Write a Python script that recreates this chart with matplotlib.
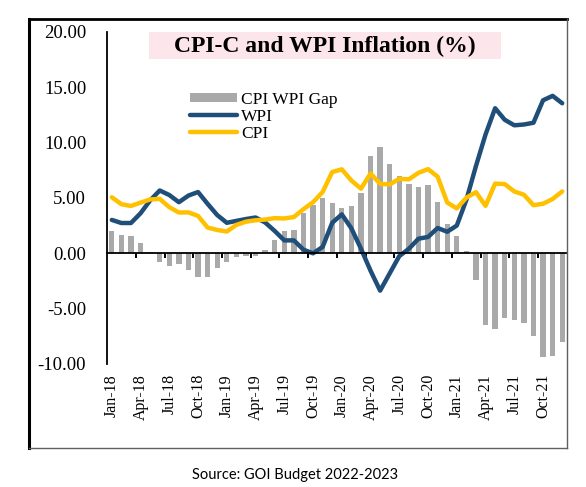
import matplotlib
matplotlib.use("Agg")
import matplotlib.pyplot as plt
from matplotlib.lines import Line2D
from matplotlib.patches import Rectangle

plt.rcParams["font.family"] = ["Liberation Serif", "DejaVu Serif"]

# monthly data, Jan-18 .. Dec-21
months = [f"{m}-{y}" for y in ("18", "19", "20", "21")
          for m in ("Jan", "Feb", "Mar", "Apr", "May", "Jun",
                    "Jul", "Aug", "Sep", "Oct", "Nov", "Dec")]

cpi = [5.07, 4.44, 4.28, 4.58, 4.87, 4.92, 4.17, 3.69, 3.70, 3.38, 2.33, 2.11,
       1.97, 2.57, 2.86, 2.99, 3.05, 3.18, 3.15, 3.28, 3.99, 4.62, 5.54, 7.35,
       7.59, 6.58, 5.84, 7.22, 6.27, 6.23, 6.73, 6.69, 7.27, 7.61, 6.93, 4.59,
       4.06, 5.03, 5.52, 4.29, 6.30, 6.26, 5.59, 5.30, 4.35, 4.48, 4.91, 5.59]

wpi = [3.02, 2.74, 2.74, 3.62, 4.78, 5.68, 5.27, 4.62, 5.22, 5.54, 4.47, 3.46,
       2.76, 2.93, 3.10, 3.24, 2.79, 2.02, 1.17, 1.17, 0.33, 0.00, 0.58, 2.76,
       3.52, 2.26, 0.42, -1.57, -3.37, -1.81, -0.25, 0.41, 1.32, 1.48, 2.29, 1.95,
       2.51, 4.83, 7.89, 10.74, 13.11, 12.07, 11.57, 11.64, 11.80, 13.83, 14.23, 13.56]

gap = [2.05, 1.70, 1.54, 0.96, 0.09, -0.76, -1.10, -0.93, -1.52, -2.16, -2.14, -1.35,
       -0.79, -0.36, -0.24, -0.25, 0.26, 1.16, 1.98, 2.11, 3.66, 4.40, 4.96, 4.59,
       4.07, 4.32, 5.42, 8.79, 9.64, 8.04, 6.98, 6.28, 5.95, 6.13, 4.64, 2.64,
       1.55, 0.20, -2.37, -6.45, -6.81, -5.81, -5.98, -6.34, -7.45, -9.35, -9.32, -7.97]

y_ticks = [-10, -5, 0, 5, 10, 15, 20]

W, H = 586, 487
fig = plt.figure(figsize=(W / 100, H / 100), dpi=100)


def fx(px):
    return px / W


def fy(py):
    return 1 - py / H


ax = fig.add_axes([fx(107), fy(364), fx(567) - fx(107), fy(32) - fy(364)])
x = list(range(len(months)))

bars = ax.bar(x, gap, width=0.55, color="#a9a9a9", zorder=2, label="CPI WPI Gap")
wpi_line, = ax.plot(x, wpi, color="#1f4e79", lw=3.2, solid_capstyle="round",
                    solid_joinstyle="round", zorder=3, label="WPI")
cpi_line, = ax.plot(x, cpi, color="#ffc000", lw=3.2, solid_capstyle="round",
                    solid_joinstyle="round", zorder=4, label="CPI")

ax.set_xlim(-0.5, len(months) - 0.5)
ax.set_ylim(-10, 20)

for side in ("top", "right"):
    ax.spines[side].set_visible(False)
ax.spines["left"].set_linewidth(1.3)
ax.spines["bottom"].set_position(("data", 0))
ax.spines["bottom"].set_linewidth(1.3)
ax.spines["bottom"].set_zorder(5)

# tick marks on the zero line between quarters
ax.set_xticks([i + 0.5 for i in range(2, len(months) - 1, 3)])
ax.set_xticklabels([])
ax.tick_params(axis="x", direction="out", length=3.5, width=1.4)

ax.set_yticks(y_ticks)
ax.set_yticklabels([f"{v:.2f}" for v in y_ticks], fontsize=13.5)
ax.tick_params(axis="y", length=0, pad=15)

for i in range(0, len(months), 3):
    ax.text(i, -0.03, months[i], transform=ax.get_xaxis_transform(),
            rotation=90, ha="center", va="top", fontsize=11.5)

# title box
fig.add_artist(Rectangle((fx(149), fy(59)), fx(501) - fx(149), fy(32) - fy(59),
                         transform=fig.transFigure, facecolor="#fce6ec",
                         edgecolor="none"))
fig.text(fx(325), fy(46), "CPI-C and WPI Inflation (%)", ha="center",
         va="center", fontsize=17, fontweight="bold")

fig.legend([bars, wpi_line, cpi_line], ["CPI WPI Gap", "WPI", "CPI"],
           loc="upper left", bbox_to_anchor=(fx(190), fy(92)),
           frameon=False, fontsize=12.5, handlelength=2.7,
           handleheight=0.45, handletextpad=0.25, labelspacing=0.05,
           borderpad=0, borderaxespad=0)

# outer frame
fig.add_artist(Line2D([fx(29), fx(29)], [fy(19), fy(448)], color="black", lw=2.2))
fig.add_artist(Line2D([fx(29), fx(567)], [fy(19), fy(19)], color="black", lw=2.0))
fig.add_artist(Line2D([fx(567), fx(567)], [fy(19), fy(448)], color="#606060", lw=1.0))
fig.add_artist(Line2D([fx(29), fx(567)], [fy(448), fy(448)], color="#606060", lw=1.0))

fig.text(fx(295), fy(475), "Source: GOI Budget 2022-2023", ha="center",
         va="center", fontsize=10.5, family="Lato")

fig.savefig("out.png", dpi=100)
